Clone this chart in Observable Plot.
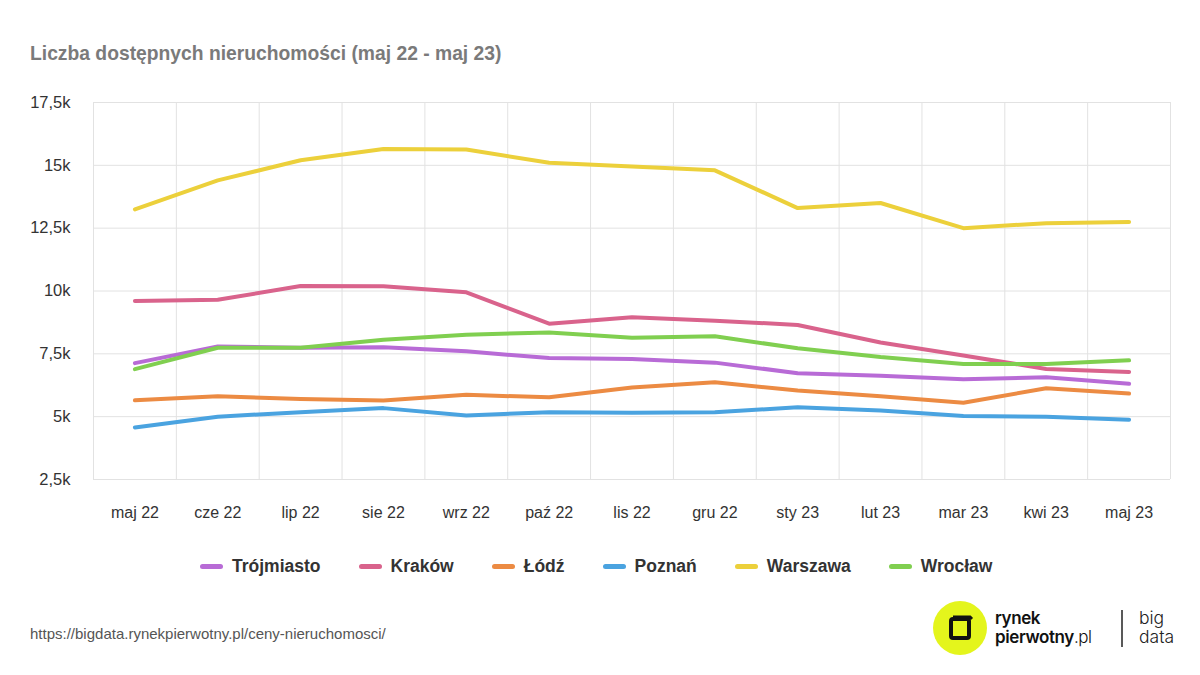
<!DOCTYPE html>
<html>
<head>
<meta charset="utf-8">
<script src="https://cdn.jsdelivr.net/npm/d3@7"></script>
<script src="https://cdn.jsdelivr.net/npm/@observablehq/plot@0.6"></script>
<style>
  html, body { margin: 0; padding: 0; background: #fff; }
  body { width: 1200px; height: 675px; position: relative; overflow: hidden; font-family: "Liberation Sans", Arial, Helvetica, sans-serif; }
  #title { position: absolute; left: 30px; top: 43px; font-size: 19.3px; font-weight: bold; color: #7a7a7a; }
  #chart { position: absolute; left: 0; top: 0; }
  #legend { position: absolute; left: 200px; top: 556px; display: flex; gap: 38px; align-items: center; }
  .item { display: flex; align-items: center; gap: 9px; font-size: 17.5px; font-weight: bold; color: #333; }
  .sw { width: 23px; height: 5px; border-radius: 3px; display: inline-block; }
  #source { position: absolute; left: 30px; top: 625px; font-size: 15px; color: #555; }
  #logo { position: absolute; left: 925px; top: 595px; }
</style>
</head>
<body>
<div id="title">Liczba dostępnych nieruchomości (maj 22 - maj 23)</div>
<div id="chart"></div>
<div id="legend"></div>
<div id="source">https://bigdata.rynekpierwotny.pl/ceny-nieruchomosci/</div>
<svg id="logo" width="275" height="75" viewBox="0 0 275 75">
  <circle cx="35" cy="33" r="27" fill="#e4f51c"/>
  <rect x="26" y="24" width="18" height="19" rx="2" fill="none" stroke="#111" stroke-width="4"/>
  <path d="M28 22 L45 22 L47 24" fill="none" stroke="#111" stroke-width="3"/>
  <text x="70" y="29" font-family="Inter, 'Liberation Sans', sans-serif" font-size="17" font-weight="600" letter-spacing="-0.4" fill="#111">rynek</text>
  <text x="70" y="48" font-family="Inter, 'Liberation Sans', sans-serif" font-size="17" font-weight="600" letter-spacing="-0.4" fill="#111">pierwotny<tspan font-weight="300">.pl</tspan></text>
  <line x1="197" y1="15" x2="197" y2="52" stroke="#222" stroke-width="1.5"/>
  <text x="214" y="29" font-family="Inter, 'Liberation Sans', sans-serif" font-size="17.5" font-weight="300" fill="#222">big</text>
  <text x="214" y="48" font-family="Inter, 'Liberation Sans', sans-serif" font-size="17.5" font-weight="300" fill="#222">data</text>
</svg>
<script>
const months = ["maj 22","cze 22","lip 22","sie 22","wrz 22","paź 22","lis 22","gru 22","sty 23","lut 23","mar 23","kwi 23","maj 23"];
const cities = ["Trójmiasto","Kraków","Łódź","Poznań","Warszawa","Wrocław"];
const colors = ["#b86bd6","#d9638c","#ec8b43","#4aa3e0","#ecd03b","#80cf50"];
const trojmiasto = [7130,7790,7740,7760,7600,7330,7290,7150,6730,6630,6490,6570,6310];
const krakow     = [9600,9650,10200,10190,9950,8700,8960,8820,8650,7950,7430,6900,6780];
const lodz       = [5650,5810,5700,5640,5870,5770,6160,6370,6040,5810,5550,6130,5920];
const poznan     = [4570,5000,5180,5340,5050,5180,5160,5180,5370,5250,5030,5000,4880];
const warszawa   = [13250,14400,15200,15650,15630,15100,14950,14800,13300,13500,12500,12700,12750];
const wroclaw    = [6890,7740,7740,8060,8260,8350,8140,8200,7720,7370,7100,7100,7240];
const yTicks = [2500,5000,7500,10000,12500,15000,17500];

const series = [trojmiasto, krakow, lodz, poznan, warszawa, wroclaw];
const rows = cities.flatMap((c, k) => series[k].map((v, i) => ({city: c, i, v})));
const idx = months.map((m, i) => i);
const bounds = [-0.5, ...idx.map(i => i + 0.5)];
const fmtY = v => String(v / 1000).replace(".", ",") + "k";

const chart = Plot.plot({
  width: 1200,
  height: 540,
  marginTop: 102,
  marginBottom: 61,
  marginLeft: 93,
  marginRight: 30,
  style: {fontFamily: "'Liberation Sans', Arial, Helvetica, sans-serif", color: "#333", background: "transparent"},
  x: {type: "linear", domain: [-0.5, months.length - 0.5]},
  y: {domain: [yTicks[0], yTicks[yTicks.length - 1]]},
  color: {domain: cities, range: colors},
  marks: [
    Plot.ruleY(yTicks, {stroke: "#e2e2e2", strokeWidth: 1}),
    Plot.ruleX(bounds, {stroke: "#e2e2e2", strokeWidth: 1}),
    Plot.axisY(yTicks, {tickSize: 0, tickPadding: 23, tickFormat: fmtY, fontSize: 16.5, label: null}),
    Plot.axisX(idx, {tickSize: 0, tickPadding: 27, tickFormat: i => months[i], fontSize: 16, label: null}),
    Plot.line(rows, {x: "i", y: "v", z: "city", stroke: "city", strokeWidth: 4, strokeLinecap: "round", strokeLinejoin: "round"})
  ]
});
document.getElementById("chart").appendChild(chart);

const legend = document.getElementById("legend");
cities.forEach((c, k) => {
  const it = document.createElement("div");
  it.className = "item";
  const sw = document.createElement("span");
  sw.className = "sw";
  sw.style.background = colors[k];
  it.appendChild(sw);
  it.appendChild(document.createTextNode(c));
  legend.appendChild(it);
});
</script>
</body>
</html>
